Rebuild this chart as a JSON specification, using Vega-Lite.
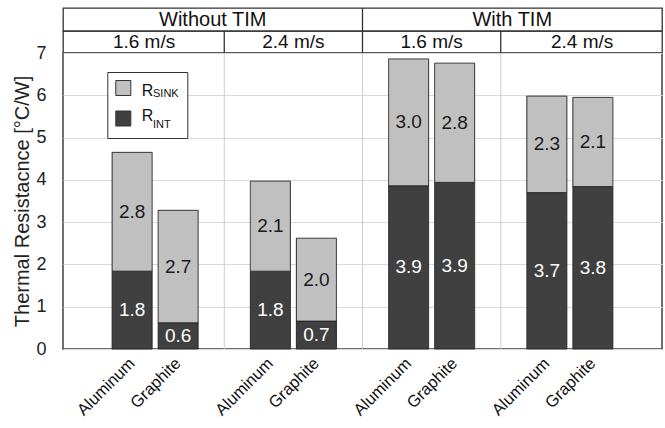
{
  "$schema": "https://vega.github.io/schema/vega-lite/v6.json",
  "autosize": {"type": "pad"},
  "padding": {"left": 12, "top": 6, "right": 0, "bottom": 0},
  "bounds": "flush",
  "config": {"font": "Liberation Sans", "view": {"stroke": null}},
  "datasets": {
    "bars": [
      {"group": "noTIM-1.6", "material": "Aluminum", "component": "R_INT", "sub": "INT", "value": 1.84},
      {"group": "noTIM-1.6", "material": "Aluminum", "component": "R_SINK", "sub": "SINK", "value": 2.81},
      {"group": "noTIM-1.6", "material": "Graphite", "component": "R_INT", "sub": "INT", "value": 0.62},
      {"group": "noTIM-1.6", "material": "Graphite", "component": "R_SINK", "sub": "SINK", "value": 2.66},
      {"group": "noTIM-2.4", "material": "Aluminum", "component": "R_INT", "sub": "INT", "value": 1.84},
      {"group": "noTIM-2.4", "material": "Aluminum", "component": "R_SINK", "sub": "SINK", "value": 2.13},
      {"group": "noTIM-2.4", "material": "Graphite", "component": "R_INT", "sub": "INT", "value": 0.66},
      {"group": "noTIM-2.4", "material": "Graphite", "component": "R_SINK", "sub": "SINK", "value": 1.96},
      {"group": "TIM-1.6", "material": "Aluminum", "component": "R_INT", "sub": "INT", "value": 3.86},
      {"group": "TIM-1.6", "material": "Aluminum", "component": "R_SINK", "sub": "SINK", "value": 3.0},
      {"group": "TIM-1.6", "material": "Graphite", "component": "R_INT", "sub": "INT", "value": 3.94},
      {"group": "TIM-1.6", "material": "Graphite", "component": "R_SINK", "sub": "SINK", "value": 2.82},
      {"group": "TIM-2.4", "material": "Aluminum", "component": "R_INT", "sub": "INT", "value": 3.7},
      {"group": "TIM-2.4", "material": "Aluminum", "component": "R_SINK", "sub": "SINK", "value": 2.28},
      {"group": "TIM-2.4", "material": "Graphite", "component": "R_INT", "sub": "INT", "value": 3.84},
      {"group": "TIM-2.4", "material": "Graphite", "component": "R_SINK", "sub": "SINK", "value": 2.11}
    ],
    "groups": [
      {"group": "noTIM-1.6", "tim": "Without TIM", "speed": "1.6 m/s"},
      {"group": "noTIM-2.4", "tim": "Without TIM", "speed": "2.4 m/s"},
      {"group": "TIM-1.6", "tim": "With TIM", "speed": "1.6 m/s"},
      {"group": "TIM-2.4", "tim": "With TIM", "speed": "2.4 m/s"}
    ],
    "tims": [
      {"tim": "Without TIM"},
      {"tim": "With TIM"}
    ]
  },
  "spacing": 0,
  "resolve": {"scale": {"x": "independent", "y": "independent"}},
  "vconcat": [
    {
      "width": 599,
      "height": 23,
      "view": {"stroke": "#333333", "strokeWidth": 1.3},
      "data": {"name": "tims"},
      "layer": [
        {
          "transform": [{"filter": "datum.tim === 'With TIM'"}],
          "mark": {"type": "rule", "color": "#333333", "strokeWidth": 1.3},
          "encoding": {
            "x": {"field": "tim", "type": "nominal", "bandPosition": 0, "axis": null,
                  "scale": {"type": "band", "domain": ["Without TIM", "With TIM"], "paddingInner": 0, "paddingOuter": 0}}
          }
        },
        {
          "mark": {"type": "text", "fontSize": 20, "color": "#111111", "baseline": "middle"},
          "encoding": {
            "x": {"field": "tim", "type": "nominal", "axis": null,
                  "scale": {"type": "band", "domain": ["Without TIM", "With TIM"], "paddingInner": 0, "paddingOuter": 0}},
            "text": {"field": "tim"}
          }
        }
      ]
    },
    {
      "width": 599,
      "height": 22,
      "view": {"stroke": "#333333", "strokeWidth": 1.3},
      "data": {"name": "groups"},
      "layer": [
        {
          "transform": [{"filter": "datum.group !== 'noTIM-1.6'"}],
          "mark": {"type": "rule", "color": "#333333", "strokeWidth": 1.3},
          "encoding": {
            "x": {"field": "group", "type": "nominal", "bandPosition": 0, "axis": null,
                  "scale": {"type": "band", "domain": ["noTIM-1.6", "noTIM-2.4", "TIM-1.6", "TIM-2.4"], "paddingInner": 0, "paddingOuter": 0.1665}}
          }
        },
        {
          "transform": [{"filter": "datum.group === 'noTIM-1.6'"}],
          "mark": {"type": "text", "fontSize": 19, "color": "#111111", "baseline": "middle"},
          "encoding": {
            "x": {"field": "group", "type": "nominal", "bandPosition": 0.42, "axis": null,
                  "scale": {"type": "band", "domain": ["noTIM-1.6", "noTIM-2.4", "TIM-1.6", "TIM-2.4"], "paddingInner": 0, "paddingOuter": 0.1665}},
            "text": {"field": "speed"}
          }
        },
        {
          "transform": [{"filter": "datum.group === 'noTIM-2.4' || datum.group === 'TIM-1.6'"}],
          "mark": {"type": "text", "fontSize": 19, "color": "#111111", "baseline": "middle"},
          "encoding": {
            "x": {"field": "group", "type": "nominal", "bandPosition": 0.5, "axis": null,
                  "scale": {"type": "band", "domain": ["noTIM-1.6", "noTIM-2.4", "TIM-1.6", "TIM-2.4"], "paddingInner": 0, "paddingOuter": 0.1665}},
            "text": {"field": "speed"}
          }
        },
        {
          "transform": [{"filter": "datum.group === 'TIM-2.4'"}],
          "mark": {"type": "text", "fontSize": 19, "color": "#111111", "baseline": "middle"},
          "encoding": {
            "x": {"field": "group", "type": "nominal", "bandPosition": 0.589, "axis": null,
                  "scale": {"type": "band", "domain": ["noTIM-1.6", "noTIM-2.4", "TIM-1.6", "TIM-2.4"], "paddingInner": 0, "paddingOuter": 0.1665}},
            "text": {"field": "speed"}
          }
        }
      ]
    },
    {
      "width": 599,
      "height": 296,
      "view": {"stroke": "#404040", "strokeWidth": 1.5},
      "data": {"name": "bars"},
      "layer": [
        {
          "data": {"name": "groups"},
          "transform": [{"filter": "datum.group !== 'noTIM-1.6'"}],
          "mark": {"type": "rule", "color": "#cccccc", "strokeWidth": 1},
          "encoding": {
            "x": {"field": "group", "type": "nominal", "bandPosition": 0, "axis": null,
                  "scale": {"type": "band", "domain": ["noTIM-1.6", "noTIM-2.4", "TIM-1.6", "TIM-2.4"], "paddingInner": 0, "paddingOuter": 0.1665}}
          }
        },
        {
          "mark": {"type": "bar", "stroke": "#262626", "strokeWidth": 1},
          "encoding": {
            "x": {"field": "group", "type": "nominal", "axis": null,
                  "scale": {"type": "band", "domain": ["noTIM-1.6", "noTIM-2.4", "TIM-1.6", "TIM-2.4"], "paddingInner": 0, "paddingOuter": 0.1665}},
            "xOffset": {"field": "material", "type": "nominal",
                        "scale": {"type": "band", "domain": ["Aluminum", "Graphite"], "paddingInner": 0.13, "paddingOuter": 0.567}},
            "y": {"field": "value", "type": "quantitative", "stack": "zero",
                  "scale": {"domain": [0, 7], "nice": false},
                  "axis": {"values": [0, 1, 2, 3, 4, 5, 6, 7], "grid": true, "gridColor": "#d9d9d9", "gridWidth": 1,
                           "ticks": false, "domain": false, "labelFontSize": 18, "labelColor": "#222222",
                           "labelPadding": 17, "title": "Thermal Resistacnce [°C/W]", "titleFontSize": 20,
                           "titleFontWeight": "normal", "titleColor": "#222222", "titlePadding": 3}},
            "color": {"field": "component", "type": "nominal",
                      "scale": {"domain": ["R_SINK", "R_INT"], "range": ["#c0c0c0", "#404040"]},
                      "legend": {"orient": "none", "legendX": 44.3, "legendY": 64, "title": null,
                                 "direction": "vertical", "padding": 8, "rowPadding": 9.5,
                                 "strokeColor": "#333333", "fillColor": "#ffffff", "zindex": 1,
                                 "symbolType": "square", "symbolSize": 225, "symbolStrokeColor": "#333333",
                                 "symbolStrokeWidth": 1, "labelOffset": 21.7, "labelFontSize": 11,
                                 "labelBaseline": "top", "labelColor": "#111111",
                                 "labelExpr": "replace(datum.label, 'R_', '')"}},
            "strokeDash": {"field": "sub", "type": "nominal",
                           "scale": {"domain": ["SINK", "INT"], "range": [[1, 0], [1, 0]]},
                           "legend": {"orient": "none", "legendX": 44.3, "legendY": 67, "title": null,
                                      "direction": "vertical", "padding": 8, "rowPadding": 8.5, "zindex": 2,
                                      "symbolType": "square", "symbolSize": 225, "symbolOpacity": 0,
                                      "symbolStrokeWidth": 0, "labelOffset": 10.4, "labelFontSize": 16,
                                      "labelColor": "#111111", "labelExpr": "'R'"}},
            "order": {"field": "component", "sort": "ascending"}
          }
        },
        {
          "mark": {"type": "text", "fontSize": 19, "baseline": "middle"},
          "encoding": {
            "x": {"field": "group", "type": "nominal", "axis": null,
                  "scale": {"type": "band", "domain": ["noTIM-1.6", "noTIM-2.4", "TIM-1.6", "TIM-2.4"], "paddingInner": 0, "paddingOuter": 0.1665}},
            "xOffset": {"field": "material", "type": "nominal",
                        "scale": {"type": "band", "domain": ["Aluminum", "Graphite"], "paddingInner": 0.13, "paddingOuter": 0.567}},
            "y": {"field": "value", "type": "quantitative", "stack": "zero", "bandPosition": 0.5},
            "detail": {"field": "component"},
            "order": {"field": "component", "sort": "ascending"},
            "text": {"field": "value", "type": "quantitative", "format": ".1f"},
            "color": {"condition": {"test": "datum.component === 'R_INT'", "value": "#ffffff"}, "value": "#1a1a1a"}
          }
        },
        {
          "transform": [{"filter": "datum.component === 'R_INT'"}],
          "mark": {"type": "text", "angle": 315, "align": "right", "baseline": "middle", "fontSize": 16.5,
                   "color": "#111111", "yOffset": 12},
          "encoding": {
            "x": {"field": "group", "type": "nominal", "axis": null,
                  "scale": {"type": "band", "domain": ["noTIM-1.6", "noTIM-2.4", "TIM-1.6", "TIM-2.4"], "paddingInner": 0, "paddingOuter": 0.1665}},
            "xOffset": {"field": "material", "type": "nominal",
                        "scale": {"type": "band", "domain": ["Aluminum", "Graphite"], "paddingInner": 0.13, "paddingOuter": 0.567}},
            "y": {"datum": 0},
            "text": {"field": "material"}
          }
        }
      ]
    }
  ]
}
